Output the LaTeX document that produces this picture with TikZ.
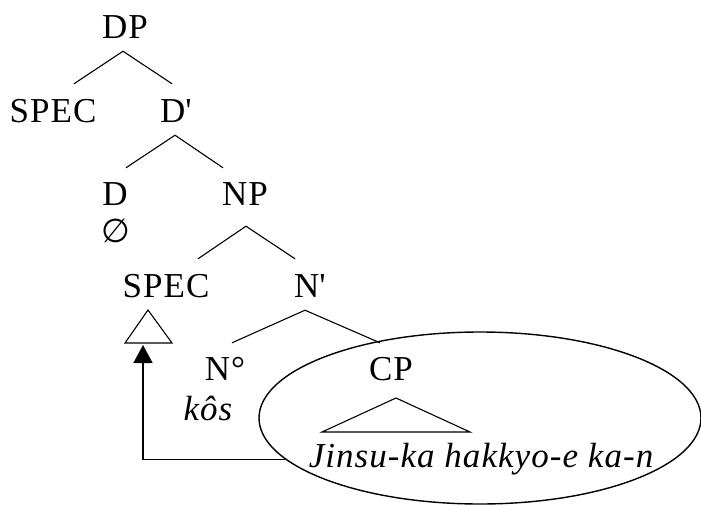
\documentclass[tikz,border=0pt]{standalone}
\usepackage{fontspec}
\setmainfont{Liberation Serif}[LetterSpace=3]
\newfontfamily\emptysetfont{DejaVu Sans}
\usetikzlibrary{arrows.meta,shapes.geometric}
\tikzset{
  cat/.style={font=\fontsize{35}{42}\selectfont, inner sep=0pt,
    text height=23pt, text depth=0pt, anchor=base},
  word/.style={font=\fontsize{35}{42}\selectfont\itshape, inner sep=0pt, anchor=base},
  branch/.style={draw=black, line width=1.1pt},
  island/.style={draw=black, ellipse, line width=1.4pt, inner sep=0pt,
    minimum width=442pt, minimum height=172pt},
  movearrow/.style={-{Triangle[length=18pt,width=19pt]}, line width=1.6pt}
}
\begin{document}
\begin{tikzpicture}[x=1pt,y=-1pt]
  \useasboundingbox (0,0) rectangle (701,506);

  % categories
  \node[cat] (dp) at (125,38) {DP};
  \node[cat] (specA) at (53,122) {SPEC};
  \node[cat] (dbar) at (176,122) {D\textquotesingle};
  \node[cat] (d) at (115,205) {D};
  \node[font=\fontsize{33}{38}\selectfont\emptysetfont, inner sep=0pt] (null) at (116,231) {∅};
  \node[cat] (np) at (245,205) {NP};
  \node[cat] (specB) at (166,297) {SPEC};
  \node[cat] (nbar) at (310,297) {N\textquotesingle};
  \node[cat] (nzero) at (225,380) {N°};
  \node[word] (kos) at (208,420) {kôs};
  \node[cat] (cp) at (391,380) {CP};
  \node[word] (clause) at (481,467) {Jinsu-ka hakkyo-e ka-n};

  % branches
  \draw[branch] ([shift={(21,-15)}]specA.north) -- ([shift={(-2,13)}]dp.south)
    -- ([shift={(-4,-15)}]dbar.north);
  \draw[branch] ([shift={(11,-14)}]d.north) -- ([shift={(-1,13)}]dbar.south)
    -- ([shift={(-22,-14)}]np.north);
  \draw[branch] ([shift={(32,-15)}]specB.north) -- ([shift={(1,21)}]np.south)
    -- ([shift={(-15,-15)}]nbar.north);
  \draw[branch] ([shift={(7,-14)}]nzero.north) -- ([shift={(-5,13)}]nbar.south)
    -- ([shift={(-11,-14)}]cp.north);

  % triangles
  \draw[branch] (148,310) -- (172,343) -- (125,343) -- cycle;
  \coordinate (specTri) at (143,345);
  \draw[branch] (396,398) -- (470,432) -- (322,432) -- cycle;

  % movement
  \node[island] (isle) at (480,418) {};
  \draw[movearrow] (isle.192) -| (specTri);
\end{tikzpicture}
\end{document}
